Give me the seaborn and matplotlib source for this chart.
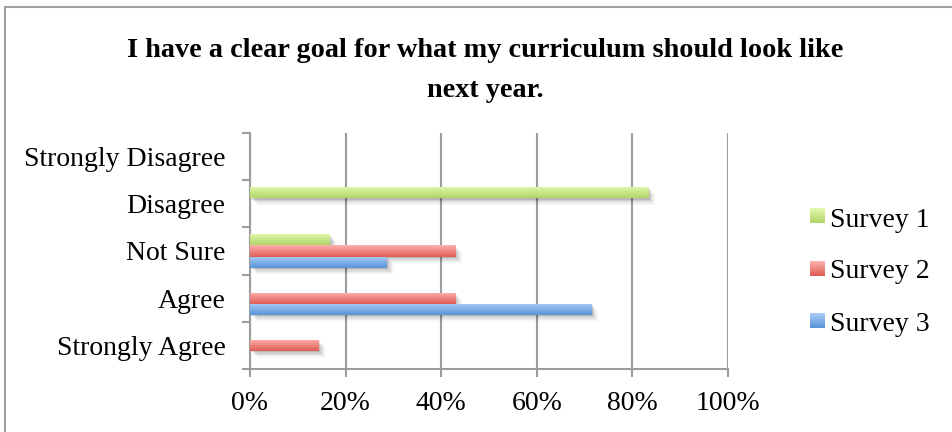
import numpy as np
import pandas as pd
import matplotlib
matplotlib.use("Agg")
import matplotlib.pyplot as plt
import matplotlib.patheffects as pe
from matplotlib.colors import LinearSegmentedColormap
import seaborn as sns

categories = ["Strongly Disagree", "Disagree", "Not Sure", "Agree", "Strongly Agree"]
surveys = ["Survey 1", "Survey 2", "Survey 3"]
survey1 = [0.0, 83.3, 16.7, 0.0, 0.0]
survey2 = [0.0, 0.0, 42.9, 42.9, 14.3]
survey3 = [0.0, 0.0, 28.6, 71.4, 0.0]
x_ticks = [0, 20, 40, 60, 80, 100]
x_tick_labels = ["0%", "20%", "40%", "60%", "80%", "100%"]
title_lines = ["I have a clear goal for what my curriculum should look like", "next year."]

# light top -> darker bottom for each series
gradients = {
    "Survey 1": ("#e3f9ae", "#b0d468"),
    "Survey 2": ("#fdb2ad", "#e05b55"),
    "Survey 3": ("#abcdf7", "#5894d8"),
}

df = pd.DataFrame({
    "Response": categories * 3,
    "Survey": [s for s in surveys for _ in categories],
    "Percent": survey1 + survey2 + survey3,
})

sns.set_style("white")
plt.rcParams["font.family"] = ["Liberation Serif", "DejaVu Serif"]
plt.rcParams["text.color"] = "black"
FS = 20

W, H = 953, 432
fig = plt.figure(figsize=(W / 100, H / 100), dpi=100)
ax = fig.add_axes([250 / W, 1 - 369 / H, 478 / W, 236 / H])

flat = {s: gradients[s][1] for s in surveys}
sns.barplot(data=df, y="Response", x="Percent", hue="Survey", order=categories,
            hue_order=surveys, palette=flat, orient="h", width=0.7,
            ax=ax, legend=False, saturation=1)

ncat = len(categories)
# gradient fill + soft drop shadow on every bar
for i, patch in enumerate(list(ax.patches)):
    s = surveys[i // ncat]
    w = patch.get_width()
    if w <= 0:
        patch.set_visible(False)
        continue
    x0, y0 = patch.get_x(), patch.get_y()
    h = patch.get_height()
    top, bot = gradients[s]
    cmap = LinearSegmentedColormap.from_list(s, [top, bot])
    grad = np.linspace(0, 1, 64).reshape(-1, 1)
    for k, a in [(1, 0.10), (2, 0.08), (3, 0.06), (4, 0.04), (5, 0.03)]:
        ax.add_patch(plt.Rectangle((x0, y0), w, h, facecolor="none", edgecolor="none",
                                   path_effects=[pe.SimplePatchShadow(offset=(k, -k), shadow_rgbFace="black", alpha=a)],
                                   zorder=2))
    im = ax.imshow(grad, cmap=cmap, aspect="auto", extent=(x0, x0 + w, y0 + h, y0),
                   zorder=3, interpolation="bilinear")
    im.set_clip_path(patch)
    patch.set_facecolor("none")
    patch.set_edgecolor("none")

ax.set_xlim(0, 100)
ax.set_ylim(ncat - 0.5, -0.5)

axis_grey = "#9c9c9c"
ax.set_xticks(x_ticks)
ax.set_xticklabels(x_tick_labels, fontsize=FS)
ax.set_yticks(range(ncat))
ax.set_yticklabels(categories, fontsize=FS)
ax.set_yticks(np.arange(-0.5, ncat, 1.0), minor=True)
ax.tick_params(axis="y", which="major", left=True, length=0, pad=17.5, labelcolor="black")
ax.tick_params(axis="y", which="minor", left=True, length=6, width=1.5, color=axis_grey, direction="out")
ax.tick_params(axis="x", which="major", bottom=True, length=6, width=1.5, color=axis_grey,
               direction="out", pad=10, labelcolor="black")
ax.grid(axis="x", color=axis_grey, linewidth=1.5, zorder=0)
ax.set_axisbelow(True)
for side in ["top", "right"]:
    ax.spines[side].set_visible(False)
for side in ["left", "bottom"]:
    ax.spines[side].set_color(axis_grey)
    ax.spines[side].set_linewidth(1.5)
ax.set_xlabel("")
ax.set_ylabel("")

for line, base in zip(title_lines, [57, 97]):
    fig.text(485 / W, 1 - base / H, line, ha="center", va="baseline", fontsize=20.3,
             fontweight="bold", color="black")

# legend with gradient swatches
for j, s in enumerate(surveys):
    top, bot = gradients[s]
    cmap = LinearSegmentedColormap.from_list(s + "_leg", [top, bot])
    sy = [208, 261, 313][j]
    lax = fig.add_axes([810 / W, 1 - (sy + 15) / H, 15 / W, 15 / H])
    lax.imshow(np.linspace(0, 1, 32).reshape(-1, 1), cmap=cmap, aspect="auto")
    lax.set_axis_off()
    fig.text(830 / W, 1 - [227, 278, 331][j] / H, s, ha="left", va="baseline",
             fontsize=FS, color="black")

# outer chart frame
frame = plt.Rectangle((5 / W, -0.1), 1.2, 1 - 7 / H + 0.1, transform=fig.transFigure,
                      facecolor="none", edgecolor="#a0a0a0", linewidth=1.5, clip_on=False)
fig.patches.append(frame)

fig.savefig("out.png", dpi=100)
